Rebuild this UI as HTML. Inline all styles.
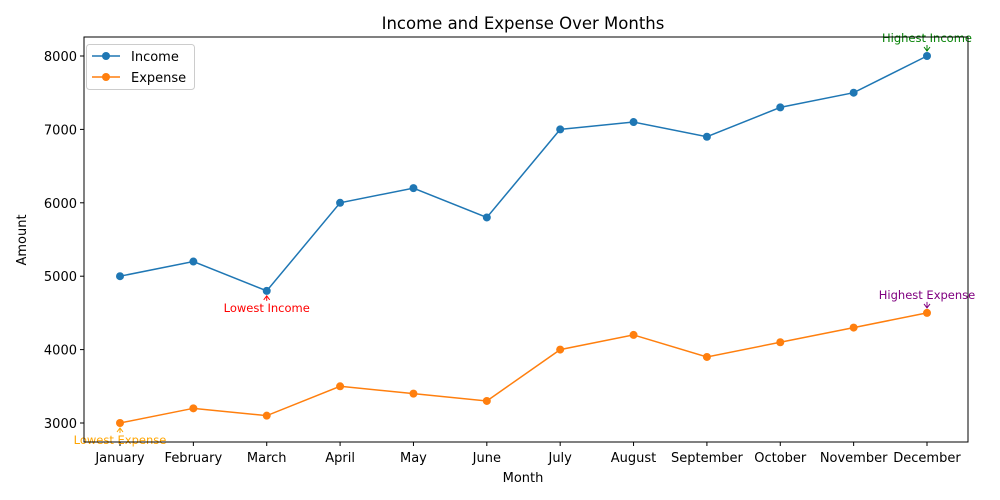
<!DOCTYPE html>
<html><head><meta charset="utf-8"><style>
body{margin:0;background:#fff}
svg{display:block;font-family:"DejaVu Sans","Liberation Sans",sans-serif}
</style></head><body>
<svg id="chart" width="1000" height="500">
<rect x="0" y="0" width="1000" height="500" fill="#fff"/>
<text x="523" y="29" font-size="16.5" text-anchor="middle">Income and Expense Over Months</text>
<text x="523" y="482" font-size="13" text-anchor="middle">Month</text>
<text transform="translate(26,240) rotate(-90)" font-size="13" text-anchor="middle">Amount</text>
<g id="ticks"></g>
<g id="series"></g>
<g id="ann"></g>
<rect x="84" y="37" width="884" height="405" fill="none" stroke="#000" stroke-width="1"/>
<g>
<rect x="86.5" y="44.5" width="108" height="45" rx="3" fill="#fff" stroke="#ccc"/>
<line x1="92" y1="56" x2="120" y2="56" stroke="#1f77b4" stroke-width="1.5"/><circle cx="106" cy="56" r="4" fill="#1f77b4"/>
<text x="131" y="61" font-size="13">Income</text>
<line x1="92" y1="77" x2="120" y2="77" stroke="#ff7f0e" stroke-width="1.5"/><circle cx="106" cy="77" r="4" fill="#ff7f0e"/>
<text x="131" y="82" font-size="13">Expense</text>
</g>
</svg>
<script>
const months=["January","February","March","April","May","June","July","August","September","October","November","December"];
const income=[5000,5200,4800,6000,6200,5800,7000,7100,6900,7300,7500,8000];
const expense=[3000,3200,3100,3500,3400,3300,4000,4200,3900,4100,4300,4500];
const yTicks=[3000,4000,5000,6000,7000,8000];
const NS="http://www.w3.org/2000/svg";
const xS=i=>120+i*(927-120)/11;
const yS=v=>423-(v-3000)*(423-56)/5000;
function mk(t,a,p){const e=document.createElementNS(NS,t);for(const k in a)e.setAttribute(k,a[k]);p.appendChild(e);return e;}
const tg=document.getElementById('ticks');
yTicks.forEach(v=>{
  mk('line',{x1:80,x2:84,y1:yS(v),y2:yS(v),stroke:'#000'},tg);
  const t=mk('text',{x:77,y:yS(v)+5,'font-size':13,'text-anchor':'end'},tg);t.textContent=v;
  
  
});
months.forEach((m,i)=>{
  mk('line',{x1:xS(i),x2:xS(i),y1:442,y2:446,stroke:'#000'},tg);
  const t=mk('text',{x:xS(i),y:462,'font-size':13,'text-anchor':'middle'},tg);t.textContent=m;
  
  
});
const sg=document.getElementById('series');
[[income,'#1f77b4','income'],[expense,'#ff7f0e','expense']].forEach(([d,c,n])=>{
  const p=mk('polyline',{points:d.map((v,i)=>xS(i)+','+yS(v)).join(' '),fill:'none',stroke:c,'stroke-width':1.5},sg);
  
  
  d.forEach((v,i)=>{const q=mk('circle',{cx:xS(i),cy:yS(v),r:4,fill:c},sg);
    
    });
});
const ag=document.getElementById('ann');
function ann(i,v,txt,c,dy){
  const x=xS(i),y=yS(v),ty=y+dy;
  const t=mk('text',{x:x,y:ty,'font-size':11.5,'text-anchor':'middle',fill:c},ag);t.textContent=txt;
  
  
  const sy=dy<0?ty+3:ty-11, ey=dy<0?y-5:y+5;
  mk('line',{x1:x,y1:sy,x2:x,y2:ey,stroke:c},ag);
  const h=dy<0?-4:4;
  mk('polyline',{points:`${x-3},${ey+h} ${x},${ey} ${x+3},${ey+h}`,fill:'none',stroke:c},ag);
}
ann(11,8000,'Highest Income','green',-14);
ann(2,4800,'Lowest Income','red',21);
ann(0,3000,'Lowest Expense','orange',21);
ann(11,4500,'Highest Expense','purple',-14);
</script>
</body></html>
